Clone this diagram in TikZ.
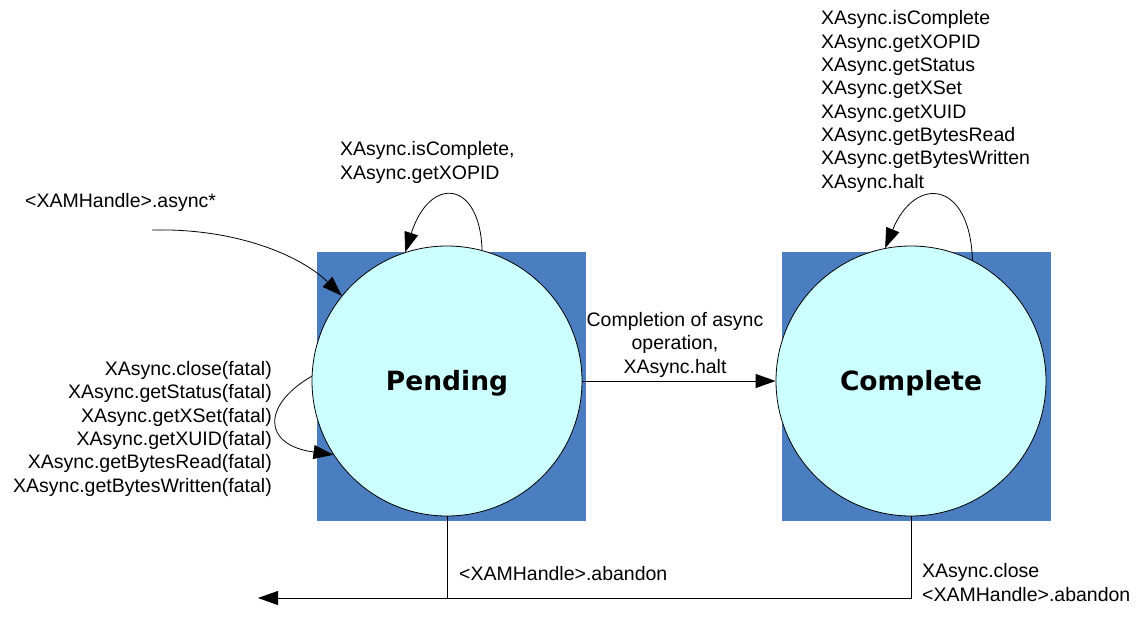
\documentclass[tikz,border=0pt]{standalone}
\usepackage{fontspec}
\setmainfont{Liberation Sans}
\newfontfamily\heavyfont{DejaVu Sans}
\usetikzlibrary{arrows.meta}
\definecolor{sqblue}{RGB}{74,126,193}
\definecolor{circfill}{RGB}{204,255,255}
\begin{document}
\begin{tikzpicture}[x=1pt,y=-1pt,
  sq/.style={fill=sqblue, minimum size=269pt, inner sep=0pt, draw=none},
  st/.style={circle, draw=black, line width=0.8pt, fill=circfill, minimum size=270pt, inner sep=0pt,
    font=\heavyfont\fontsize{26.5}{26.5}\selectfont\bfseries, text height=19.5pt, text depth=0pt},
  lbl/.style={font=\fontsize{19.5}{23.3}\selectfont, inner sep=0pt},
  tr/.style={-{Triangle[length=20pt,width=14pt]}, line width=0.8pt},
  ln/.style={line width=0.8pt},
]
\useasboundingbox (0,0) rectangle (1138,626);
\node[sq] (psq) at (451.5,386.5) {};
\node[sq] (csq) at (916.5,386.5) {};
\node[st] (p) at (447,381) {Pending};
\node[st] (c) at (911,381) {Complete};

% labels (anchor base = baseline of last line)
\node[lbl, anchor=base west] (lasync) at (25,207) {<XAMHandle>.async*};
\node[lbl, anchor=base west, align=left] (lploop) at (340,179) {XAsync.isComplete,\\XAsync.getXOPID};
\node[lbl, anchor=base west, align=left] (lcloop) at (821,188) {XAsync.isComplete\\XAsync.getXOPID\\XAsync.getStatus\\XAsync.getXSet\\XAsync.getXUID\\XAsync.getBytesRead\\XAsync.getBytesWritten\\XAsync.halt};
\node[lbl, anchor=base east, align=right] (lfatal) at (272,492) {XAsync.close(fatal)\\XAsync.getStatus(fatal)\\XAsync.getXSet(fatal)\\XAsync.getXUID(fatal)\\XAsync.getBytesRead(fatal)\\XAsync.getBytesWritten(fatal)};
\node[lbl, anchor=base, align=center] (lcomp) at (675,373) {Completion of async\\operation,\\XAsync.halt};
\node[lbl, anchor=base west] (lpab) at (459,580) {<XAMHandle>.abandon};
\node[lbl, anchor=base west, align=left] (lcab) at (922,601) {XAsync.close\\<XAMHandle>.abandon};

% connectors
\coordinate (start) at (152,230);
\coordinate (out) at (258,598);
\draw[tr] (start) .. controls (235,228) and (300,255) .. (p.141);
\draw[tr] (p.75) .. controls (480,180) and (430,175) .. (p.108);
\draw[tr] (c.63) .. controls (970,180) and (915,175) .. (c.101);
\draw[tr] (p.178) .. controls (262,405) and (262,445) .. (p.213);
\draw[tr] (p.east) -- (c.west);
\draw[ln] (p.south) -- (p.south |- out);
\draw[tr] (c.south) |- (out);
\end{tikzpicture}
\end{document}
